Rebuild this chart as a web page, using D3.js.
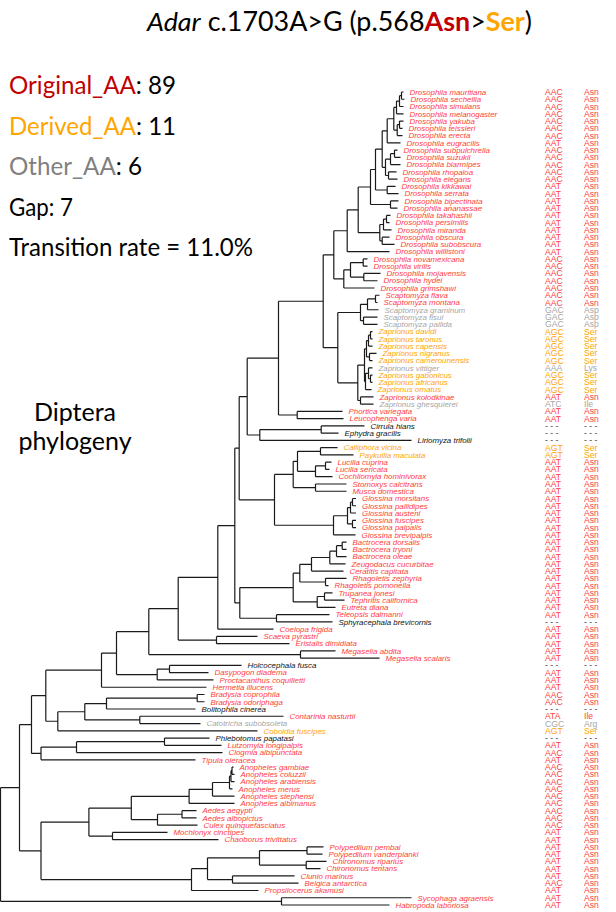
<!DOCTYPE html>
<html>
<head>
<meta charset="utf-8">
<script src="https://cdn.jsdelivr.net/npm/d3@7/dist/d3.min.js"></script>
<style>
  body { margin: 0; background: #fff; }
  .big { font-family: Lato, "Open Sans", sans-serif; }
  .sp { font-family: "Liberation Sans", Arial, sans-serif; font-style: italic; font-size: 7.9px; }
  .cd { font-family: "Liberation Sans", Arial, sans-serif; font-size: 8.6px; }
</style>
</head>
<body>
<svg id="chart" width="616" height="912"></svg>
<script>
// leaves, top to bottom
var species = [
  "Drosophila mauritiana", "Drosophila sechellia", "Drosophila simulans", "Drosophila melanogaster",
  "Drosophila yakuba", "Drosophila teissieri", "Drosophila erecta", "Drosophila eugracilis",
  "Drosophila subpulchrella", "Drosophila suzukii", "Drosophila biarmipes", "Drosophila rhopaloa",
  "Drosophila elegans", "Drosophila kikkawai", "Drosophila serrata", "Drosophila bipectinata",
  "Drosophila ananassae", "Drosophila takahashii", "Drosophila persimilis", "Drosophila miranda",
  "Drosophila obscura", "Drosophila subobscura", "Drosophila willistoni", "Drosophila novamexicana",
  "Drosophila virilis", "Drosophila mojavensis", "Drosophila hydei", "Drosophila grimshawi",
  "Scaptomyza flava", "Scaptomyza montana", "Scaptomyza graminum", "Scaptomyza fisui",
  "Scaptomyza pallida", "Zaprionus davidi", "Zaprionus taronus", "Zaprionus capensis",
  "Zaprionus nigranus", "Zaprionus camerounensis", "Zaprionus vittiger", "Zaprionus gabonicus",
  "Zaprionus africanus", "Zaprionus ornatus", "Zaprionus kolodkinae", "Zaprionus ghesquierei",
  "Phortica variegata", "Leucophenga varia", "Cirrula hians", "Ephydra gracilis",
  "Liriomyza trifolii", "Calliphora vicina", "Paykullia maculata", "Lucilia cuprina",
  "Lucilia sericata", "Cochliomyia hominivorax", "Stomoxys calcitrans", "Musca domestica",
  "Glossina morsitans", "Glossina pallidipes", "Glossina austeni", "Glossina fuscipes",
  "Glossina palpalis", "Glossina brevipalpis", "Bactrocera dorsalis", "Bactrocera tryoni",
  "Bactrocera oleae", "Zeugodacus cucurbitae", "Ceratitis capitata", "Rhagoletis zephyria",
  "Rhagoletis pomonella", "Trupanea jonesi", "Tephritis californica", "Eutreta diana",
  "Teleopsis dalmanni", "Sphyracephala brevicornis", "Coelopa frigida", "Scaeva pyrastri",
  "Eristalis dimidiata", "Megaselia abdita", "Megaselia scalaris", "Holcocephala fusca",
  "Dasypogon diadema", "Proctacanthus coquilletti", "Hermetia illucens", "Bradysia coprophila",
  "Bradysia odoriphaga", "Bolitophila cinerea", "Contarinia nasturtii", "Catotricha subobsoleta",
  "Coboldia fuscipes", "Phlebotomus papatasi", "Lutzomyia longipalpis", "Clogmia albipunctata",
  "Tipula oleracea", "Anopheles gambiae", "Anopheles coluzzii", "Anopheles arabiensis",
  "Anopheles merus", "Anopheles stephensi", "Anopheles albimanus", "Aedes aegypti",
  "Aedes albopictus", "Culex quinquefasciatus", "Mochlonyx cinctipes", "Chaoborus trivittatus",
  "Polypedilum pembai", "Polypedilum vanderplanki", "Chironomus riparius", "Chironomus tentans",
  "Clunio marinus", "Belgica antarctica", "Propsilocerus akamusi", "Sycophaga agraensis",
  "Habropoda laboriosa"
];

var codons = [
  "AAC","AAC","AAC","AAC","AAC","AAC","AAC","AAT","AAC","AAC",
  "AAC","AAC","AAC","AAT","AAT","AAT","AAT","AAT","AAT","AAT",
  "AAT","AAT","AAT","AAC","AAC","AAC","AAC","AAC","AAC","AAC",
  "GAC","GAC","GAC","AGC","AGC","AGC","AGC","AGC","AAA","AGC",
  "AGC","AGC","AAT","ATC","AAT","AAT","---","---","---","AGT",
  "AGT","AAT","AAT","AAT","AAT","AAT","AAT","AAT","AAT","AAT",
  "AAT","AAT","AAT","AAT","AAT","AAT","AAT","AAT","AAT","AAT",
  "AAT","AAT","AAT","---","AAT","AAT","AAT","AAT","AAT","---",
  "AAT","AAT","AAT","AAC","AAC","---","ATA","CGC","AGT","---",
  "AAT","AAC","AAT","AAC","AAC","AAC","AAC","AAC","AAC","AAC",
  "AAC","AAC","AAT","AAT","AAT","AAT","AAT","AAT","AAT","AAC",
  "AAT","AAT","AAT"
];

var aminoAcids = [
  "Asn","Asn","Asn","Asn","Asn","Asn","Asn","Asn","Asn","Asn",
  "Asn","Asn","Asn","Asn","Asn","Asn","Asn","Asn","Asn","Asn",
  "Asn","Asn","Asn","Asn","Asn","Asn","Asn","Asn","Asn","Asn",
  "Asp","Asp","Asp","Ser","Ser","Ser","Ser","Ser","Lys","Ser",
  "Ser","Ser","Asn","Ile","Asn","Asn","---","---","---","Ser",
  "Ser","Asn","Asn","Asn","Asn","Asn","Asn","Asn","Asn","Asn",
  "Asn","Asn","Asn","Asn","Asn","Asn","Asn","Asn","Asn","Asn",
  "Asn","Asn","Asn","---","Asn","Asn","Asn","Asn","Asn","---",
  "Asn","Asn","Asn","Asn","Asn","---","Ile","Arg","Ser","---",
  "Asn","Asn","Asn","Asn","Asn","Asn","Asn","Asn","Asn","Asn",
  "Asn","Asn","Asn","Asn","Asn","Asn","Asn","Asn","Asn","Asn",
  "Asn","Asn","Asn"
];

// O = original AA, D = derived AA, X = other AA, G = gap
var groups = ("OOOOOOOOOO" + "OOOOOOOOOO" + "OOOOOOOOOO" + "XXXDDDDDXD" +
              "DDOXOOGGGD" + "DOOOOOOOOO" + "OOOOOOOOOO" + "OOOGOOOOOG" +
              "OOOOOGOXDG" + "OOOOOOOOOO" + "OOOOOOOOOO" + "OOO").split("");

// topology; number after ':' = distance from root (leaf = index in species, 1-based)
var cladeMelSub = "((((1:403,2:404):401,3:403):399,4:403):396,((5:403,6:402):399,7:402):396.7):393.3";
var cladeMelGroup = "((((" + cladeMelSub + ",8:400):386.7,(((9:397,10:400):394,11:400):390,(12:396,13:397):388):385):381.7," +
                    "(14:395,15:398):386.7):375,(16:398,17:397):390):370";
var cladeObscura = "(((18:390,19:389):386,20:391):383,(21:389,22:394):381.7):379.3";
var cladeDrosSub = "(((24:367,25:367):362.7,(26:380,27:377):363.3):350,28:374):343.3";
var cladeScapto = "(((29:379,30:377):375,31:378):367,(32:377,33:377):363):360";
var cladeZapri = "(((((34:372,35:372):370,36:372):368,(37:376,38:372):369):366," +
                 "((39:372,(40:372,41:372):370):368,42:371):365):364,(43:373,44:373):360):357.3";
var cladeDrosophilinae = "((((" + cladeMelGroup + "," + cladeObscura + "):357.7,23:389):346.7," + cladeDrosSub + "):333.3," +
                         "(" + cladeScapto + "," + cladeZapri + "):337.3):322.7";
var cladeCalyptratae = "((((50:337,51:353):320,((52:331,53:329):325,54:332):315):297,(55:346,56:346):315):292.7," +
                       "((((57:355.5,58:355.5):352,59:355.5):350,(60:355.5,61:355.5):352):347,62:355):333):274";
var cladeTephritoidea = "((((((63:346,64:346):341.7,65:346):336,66:345):329.3,67:343):311,(68:346,69:328):325):299.3," +
                        "((70:332,71:344):324,72:335):316.7):292.7";
var cladeSchizophora = "((((" + cladeDrosophilinae + ",(45:342,46:343):296.7):278,((47:364,48:338):320.7,49:411):259.3):246.7," +
                       cladeCalyptratae + "):238.7,(" + cladeTephritoidea + ",(73:329,74:332):276):239.3):234.3";
var cladeBrachycera = "(((((" + cladeSchizophora + ",75:273):217.3,(76:257,77:289):216):177.7,(78:335,79:379):300):148.3," +
                      "((80:241,81:208):169,82:213):156.7):116,83:206):101";
var cladeLower = "((((84:204,85:204):196.7,86:195):106,(87:283,88:200):139.3):84.3,89:257):57.3";
var cladePsycho = "(((90:209,91:221):164,92:222):76,93:195):40.5";
var cladeCulicoidea = "(((((((94:233,95:234):231.5,96:234):230.5,97:232):229,98:234):212,99:234):188.6," +
                      "((100:196,101:196):181.5,102:197):157):130.8,(103:167,104:218):112):88.4";
var cladeChironomoidea = "((((105:323,106:322):306.5,(107:326,108:320):305.7):259,(109:294,110:298):232):207,111:258):191";
var treeString = "((((" + cladeBrachycera + "," + cladeLower + "):45.3," + cladePsycho + "):31,(" +
                 cladeCulicoidea + "," + cladeChironomoidea + "):40.5):19,(112:411,113:389):281):0";

var groupColor = { O: "#ff4040", D: "#ffa500", X: "#a6a6a6", G: "#111" };
var codonColor = { O: "#ff4040", D: "#ffa500", X: "#a6a6a6", G: "#444" };

function parseNewick(s) {
  var i = 0;
  function node() {
    var n = {};
    if (s[i] === "(") {
      i++;
      n.children = [];
      do { n.children.push(node()); } while (s[i++] === ",");
    }
    var m = /^([^:,()]*)(?::([\d.]+))?/.exec(s.slice(i));
    i += m[0].length;
    if (m[1]) n.leaf = +m[1] - 1;
    n.dist = +m[2];
    return n;
  }
  return node();
}

var svg = d3.select("#chart");

var x = d3.scaleLinear().domain([0, 411]).range([0.5, 411.5]);
var y = d3.scaleLinear().domain([0, species.length - 1]).range([92, 905]);

var root = d3.hierarchy(parseNewick(treeString));
root.eachAfter(function (n) {
  n.px = x(n.data.dist);
  n.py = n.children ? d3.mean(n.children, function (c) { return c.py; }) : y(n.data.leaf);
});

// branches
var pathStr = "";
root.each(function (n) {
  if (n.parent) pathStr += "M" + n.parent.px + "," + n.py + "H" + n.px;
  if (n.children) {
    pathStr += "M" + n.px + "," + n.children[0].py + "V" + n.children[n.children.length - 1].py;
  }
});
svg.append("path")
  .attr("d", pathStr)
  .attr("fill", "none")
  .attr("stroke", "#1a1a1a")
  .attr("stroke-width", 1.2);

// tip labels
svg.selectAll(".sp")
  .data(root.leaves())
  .join("text")
  .attr("class", "sp")
  .attr("x", function (d) { return d.px + 6; })
  .attr("y", function (d) { return d.py; })
  .attr("dy", "0.35em")
  .attr("fill", function (d) { return groupColor[groups[d.data.leaf]]; })
  .text(function (d) { return species[d.data.leaf]; });

function fmt(s) { return s === "---" ? "- - -" : s; }

svg.selectAll(".codon")
  .data(codons)
  .join("text")
  .attr("class", "cd")
  .attr("x", 545)
  .attr("y", function (d, i) { return y(i); })
  .attr("dy", "0.35em")
  .attr("fill", function (d, i) { return codonColor[groups[i]]; })
  .text(fmt);

svg.selectAll(".aa")
  .data(aminoAcids)
  .join("text")
  .attr("class", "cd")
  .attr("x", 584)
  .attr("y", function (d, i) { return y(i); })
  .attr("dy", "0.35em")
  .attr("fill", function (d, i) { return codonColor[groups[i]]; })
  .text(fmt);

// title
var title = svg.append("text").attr("class", "big")
  .attr("x", 147).attr("y", 30.5)
  .attr("font-size", 26)
  .attr("textLength", 385).attr("lengthAdjust", "spacingAndGlyphs");
title.append("tspan").attr("font-style", "italic").text("Adar");
title.append("tspan").text(" c.1703A>G (p.568");
title.append("tspan").attr("font-weight", "bold").attr("fill", "#c00000").text("Asn");
title.append("tspan").text(">");
title.append("tspan").attr("font-weight", "bold").attr("fill", "#ffa500").text("Ser");
title.append("tspan").text(")");

// summary
var nO = groups.filter(function (g) { return g === "O"; }).length;
var nD = groups.filter(function (g) { return g === "D"; }).length;
var nX = groups.filter(function (g) { return g === "X"; }).length;
var nG = groups.filter(function (g) { return g === "G"; }).length;
var stats = [
  { label: "Original_AA", color: "#c00000", rest: ": " + nO, w: 167 },
  { label: "Derived_AA", color: "#ffa500", rest: ": " + nD, w: 167 },
  { label: "Other_AA", color: "#808080", rest: ": " + nX, w: 133 },
  { label: "Gap", color: "#000", rest: ": " + nG, w: 64 },
  { label: "Transition rate = ", color: "#000", rest: (100 * nD / (nO + nD)).toFixed(1) + "%", w: 244 }
];
stats.forEach(function (s, i) {
  var t = svg.append("text").attr("class", "big")
    .attr("x", 9).attr("y", 94 + i * 40.5)
    .attr("font-size", 25)
    .attr("textLength", s.w).attr("lengthAdjust", "spacingAndGlyphs");
  t.append("tspan").attr("fill", s.color).text(s.label);
  t.append("tspan").attr("fill", "#000").text(s.rest);
});

svg.append("text").attr("class", "big")
  .attr("x", 75).attr("y", 421).attr("font-size", 25).attr("text-anchor", "middle")
  .text("Diptera");
svg.append("text").attr("class", "big")
  .attr("x", 75).attr("y", 450).attr("font-size", 25).attr("text-anchor", "middle")
  .text("phylogeny");
</script>
</body>
</html>
